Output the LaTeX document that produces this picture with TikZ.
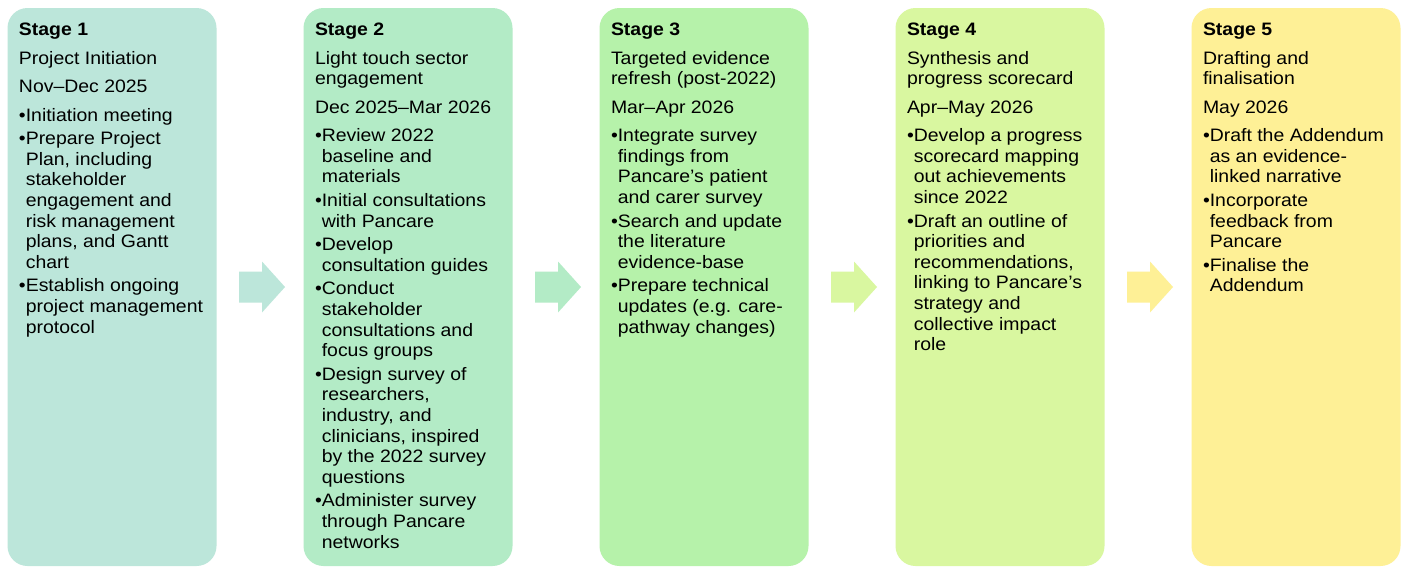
\documentclass[tikz,border=0pt]{standalone}
\usepackage{fontspec}
\setmainfont[FakeStretch=1.08]{Liberation Sans}
\usetikzlibrary{calc}
\definecolor{cA}{HTML}{BCE6DA}
\definecolor{cB}{HTML}{B3EBC6}
\definecolor{cC}{HTML}{B6F2AA}
\definecolor{cD}{HTML}{D9F7A0}
\definecolor{cE}{HTML}{FEF096}
\newcommand{\hind}{\phantom{•}}
\newcommand{\pg}{\\[7.8pt]}
\newcommand{\tg}{\\[8.7pt]}
\newcommand{\ig}{\\[3pt]}
\tikzset{
  stagebox/.style={rectangle, rounded corners=20pt, minimum width=209pt, minimum height=558pt, inner sep=0pt, draw=none},
  stagetext/.style={anchor=north west, inner sep=0pt, align=left, font=\fontsize{18}{20.6}\selectfont, text=black},
  blockarrow/.style={draw=none}
}
\begin{document}
\begin{tikzpicture}[x=1pt,y=-1pt]
\useasboundingbox (0,0) rectangle (1408,566);
\fill[white] (0,0) rectangle (1408,566);
\node[stagebox, fill=cA] (s1) at (112,287) {};
\node[stagebox, fill=cB] (s2) at (408,287) {};
\node[stagebox, fill=cC] (s3) at (704,287) {};
\node[stagebox, fill=cD] (s4) at (1000,287) {};
\node[stagebox, fill=cE] (s5) at (1296,287) {};

\foreach \a/\b/\c in {s1/s2/cA, s2/s3/cB, s3/s4/cD, s4/s5/cE}{
  \fill[blockarrow, fill=\c] ($(\a.east)!0.5!(\b.west)+(2,0)$) ++(-23,-15.5) -- ++(23,0) -- ++(0,-10) -- ++(23,25.5) -- ++(-23,25.5) -- ++(0,-10) -- ++(-23,0) -- cycle;
}

\node[stagetext] (t1) at ($(s1.north west)+(11.5,13)$) {\rule{0pt}{14pt}\textbf{Stage 1}\tg
Project Initiation\pg
Nov–Dec 2025\pg
•Initiation meeting\ig
•Prepare Project\\
\hind Plan, including\\
\hind stakeholder\\
\hind engagement and\\
\hind risk management\\
\hind plans, and Gantt\\
\hind chart\ig
•Establish ongoing\\
\hind project management\\
\hind protocol};

\node[stagetext] (t2) at ($(s2.north west)+(11.5,13)$) {\rule{0pt}{14pt}\textbf{Stage 2}\tg
Light touch sector\\
engagement\pg
Dec 2025–Mar 2026\pg
•Review 2022\\
\hind baseline and\\
\hind materials\ig
•Initial consultations\\
\hind with Pancare\ig
•Develop\\
\hind consultation guides\ig
•Conduct\\
\hind stakeholder\\
\hind consultations and\\
\hind focus groups\ig
•Design survey of\\
\hind researchers,\\
\hind industry, and\\
\hind clinicians, inspired\\
\hind by the 2022 survey\\
\hind questions\ig
•Administer survey\\
\hind through Pancare\\
\hind networks};

\node[stagetext] (t3) at ($(s3.north west)+(11.5,13)$) {\rule{0pt}{14pt}\textbf{Stage 3}\tg
Targeted evidence\\
refresh (post-2022)\pg
Mar–Apr 2026\pg
•Integrate survey\\
\hind findings from\\
\hind Pancare’s patient\\
\hind and carer survey\ig
•Search and update\\
\hind the literature\\
\hind evidence-base\ig
•Prepare technical\\
\hind updates (e.g. care-\\
\hind pathway changes)};

\node[stagetext] (t4) at ($(s4.north west)+(11.5,13)$) {\rule{0pt}{14pt}\textbf{Stage 4}\tg
Synthesis and\\
progress scorecard\pg
Apr–May 2026\pg
•Develop a progress\\
\hind scorecard mapping\\
\hind out achievements\\
\hind since 2022\ig
•Draft an outline of\\
\hind priorities and\\
\hind recommendations,\\
\hind linking to Pancare’s\\
\hind strategy and\\
\hind collective impact\\
\hind role};

\node[stagetext] (t5) at ($(s5.north west)+(11.5,13)$) {\rule{0pt}{14pt}\textbf{Stage 5}\tg
Drafting and\\
finalisation\pg
May 2026\pg
•Draft the Addendum\\
\hind as an evidence-\\
\hind linked narrative\ig
•Incorporate\\
\hind feedback from\\
\hind Pancare\ig
•Finalise the\\
\hind Addendum};
\end{tikzpicture}
\end{document}
